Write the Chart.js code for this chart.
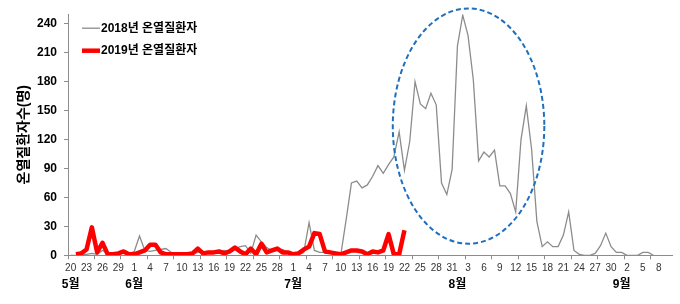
<!DOCTYPE html>
<html>
<head>
<meta charset="utf-8">
<script src="https://cdn.jsdelivr.net/npm/chart.js@4"></script>
<style>
  html, body { margin: 0; padding: 0; background: #fff; }
  #wrap { width: 680px; height: 304px; }
</style>
</head>
<body>
<div id="wrap"><canvas id="heatChart" width="680" height="304"></canvas></div>
<script>
// 날짜 (5/20 ~ 9/10, 하루 단위)
const dates = [
  '5/20','5/21','5/22','5/23','5/24','5/25','5/26','5/27','5/28','5/29','5/30','5/31',
  '6/1','6/2','6/3','6/4','6/5','6/6','6/7','6/8','6/9','6/10','6/11','6/12','6/13','6/14','6/15',
  '6/16','6/17','6/18','6/19','6/20','6/21','6/22','6/23','6/24','6/25','6/26','6/27','6/28','6/29','6/30',
  '7/1','7/2','7/3','7/4','7/5','7/6','7/7','7/8','7/9','7/10','7/11','7/12','7/13','7/14','7/15',
  '7/16','7/17','7/18','7/19','7/20','7/21','7/22','7/23','7/24','7/25','7/26','7/27','7/28','7/29','7/30','7/31',
  '8/1','8/2','8/3','8/4','8/5','8/6','8/7','8/8','8/9','8/10','8/11','8/12','8/13','8/14','8/15',
  '8/16','8/17','8/18','8/19','8/20','8/21','8/22','8/23','8/24','8/25','8/26','8/27','8/28','8/29','8/30','8/31',
  '9/1','9/2','9/3','9/4','9/5','9/6','9/7','9/8','9/9','9/10'
];

// 2018년 온열질환자 (일별)
const patients2018 = [
  0, 0, 1, 1, 2, 1, 5, 2, 1, 2, 2, 1,
  4, 20, 5, 4, 5, 6, 7, 3, 1, 1, 2, 1, 3, 3, 4,
  3, 4, 5, 3, 7, 9, 10, 2, 21, 14, 8, 5, 5, 6, 3,
  2, 1, 3, 34, 5, 3, 3, 2, 3, 1, 37, 75, 77, 70, 73,
  82, 93, 85, 94, 102, 128, 88, 118, 180, 157, 152, 168, 156, 75, 63, 89,
  217, 249, 228, 182, 98, 107, 102, 109, 72, 72, 64, 45, 120, 155, 110,
  35, 9, 14, 9, 9, 21, 45, 5, 1, 0, 0, 2, 10, 23, 9, 3,
  3, 0, 0, 0, 3, 3, 0, null, null, null
];

// 2019년 온열질환자 (7/22까지)
const patients2019 = [
  null, 1, 2, 6, 29, 3, 13, 1, 1, 2, 4, 1,
  1, 3, 5, 11, 11, 3, 1, 1, 1, 1, 1, 2, 7, 2, 3,
  3, 4, 2, 4, 8, 4, 1, 7, 1, 12, 3, 5, 7, 3, 3,
  1, 2, 6, 9, 23, 22, 4, 3, 2, 1, 3, 5, 5, 4, 1,
  4, 3, 5, 22, 1, 1, 26
];

const yTicks = [0, 30, 60, 90, 120, 150, 180, 210, 240];
const seriesNames = ['2018년 온열질환자', '2019년 온열질환자'];

// 8월 초 피크 강조용 타원 (x: 날짜 인덱스, y: 환자 수)
const peakEllipse = { centerIndex: 75.1, centerValue: 134, halfDays: 14.3, halfValue: 122 };

const FONT = "'Liberation Sans', 'Noto Sans CJK KR', sans-serif";

// 점선 타원 그리기
const ellipsePlugin = {
  id: 'peakEllipse',
  afterDatasetsDraw(chart) {
    const { ctx, scales: { x, y } } = chart;
    const cx = x.getPixelForValue(peakEllipse.centerIndex);
    const cy = y.getPixelForValue(peakEllipse.centerValue);
    const rx = x.getPixelForValue(peakEllipse.centerIndex + peakEllipse.halfDays) - cx;
    const ry = cy - y.getPixelForValue(peakEllipse.centerValue + peakEllipse.halfValue);
    ctx.save();
    ctx.beginPath();
    ctx.ellipse(cx, cy, rx, ry, 0, 0, Math.PI * 2);
    ctx.setLineDash([5, 3]);
    ctx.lineWidth = 2;
    ctx.strokeStyle = '#1f6fbf';
    ctx.stroke();
    ctx.restore();
  }
};

// 차트 영역 안쪽 왼쪽 위 범례
const insideLegend = {
  id: 'insideLegend',
  afterDraw(chart) {
    const { ctx, chartArea } = chart;
    const sets = [chart.data.datasets[1], chart.data.datasets[0]];
    ctx.save();
    ctx.font = 'bold 12px ' + FONT;
    ctx.textBaseline = 'middle';
    sets.forEach((ds, k) => {
      const yy = chartArea.top + 14 + k * 22.5;
      const x0 = chartArea.left + 14;
      ctx.beginPath();
      ctx.moveTo(x0, yy);
      ctx.lineTo(x0 + 18, yy);
      ctx.lineWidth = ds.borderWidth;
      ctx.strokeStyle = ds.borderColor;
      ctx.stroke();
      ctx.fillStyle = '#000';
      ctx.fillText(ds.label, x0 + 19, yy);
    });
    ctx.restore();
  }
};

new Chart(document.getElementById('heatChart'), {
  type: 'line',
  data: {
    labels: dates,
    datasets: [
      {
        label: seriesNames[1],
        data: patients2019,
        borderColor: '#ff0000',
        borderWidth: 4.5,
        borderJoinStyle: 'round',
        pointRadius: 0,
        tension: 0,
        order: 0
      },
      {
        label: seriesNames[0],
        data: patients2018,
        borderColor: '#8c8c8c',
        borderWidth: 1.3,
        pointRadius: 0,
        tension: 0,
        order: 1
      }
    ]
  },
  options: {
    responsive: false,
    animation: false,
    layout: { padding: { top: 12, right: 8, bottom: 0, left: 0 } },
    plugins: {
      legend: { display: false },
      tooltip: { enabled: false }
    },
    scales: {
      x: {
        type: 'category',
        offset: true,
        weight: 0,
        border: { color: '#8c8c8c', width: 1 },
        grid: {
          offset: true,
          drawOnChartArea: false,
          tickLength: 4,
          color: (c) => (c.index % 5 === 0 ? '#8c8c8c' : 'rgba(0,0,0,0)')
        },
        ticks: {
          autoSkip: false,
          maxRotation: 0,
          minRotation: 0,
          padding: 3,
          color: '#333',
          font: { family: FONT, size: 10 },
          callback: (v, i) => (i % 3 === 0 ? dates[i].split('/')[1] : '')
        },
        afterFit: (s) => { s.height = 20; }
      },
      x2: {
        type: 'category',
        position: 'bottom',
        offset: true,
        weight: 1,
        border: { display: false },
        grid: { display: false, drawTicks: false },
        ticks: {
          autoSkip: false,
          maxRotation: 0,
          minRotation: 0,
          padding: 2,
          color: '#000',
          font: { family: FONT, size: 12, weight: 'bold' },
          callback: (v, i) => {
            const [m, d] = dates[i].split('/');
            return (i === 0 || d === '1') ? m + '월' : '';
          }
        },
        afterFit: (s) => { s.height = 28.7; }
      },
      y: {
        min: 0,
        max: 250,
        border: { color: '#8c8c8c', width: 1 },
        grid: { drawOnChartArea: false, tickLength: 4, color: '#8c8c8c' },
        afterBuildTicks: (s) => { s.ticks = yTicks.map((v) => ({ value: v })); },
        ticks: {
          padding: 7,
          color: '#000',
          font: { family: FONT, size: 12, weight: 'bold' }
        },
        title: {
          display: true,
          text: '온열질환자수(명)',
          color: '#000',
          font: { family: FONT, size: 14, weight: 'bold' },
          padding: { top: 16, bottom: 0 }
        },
        afterFit: (s) => { s.width = 68; }
      }
    }
  },
  plugins: [ellipsePlugin, insideLegend]
});
</script>
</body>
</html>
